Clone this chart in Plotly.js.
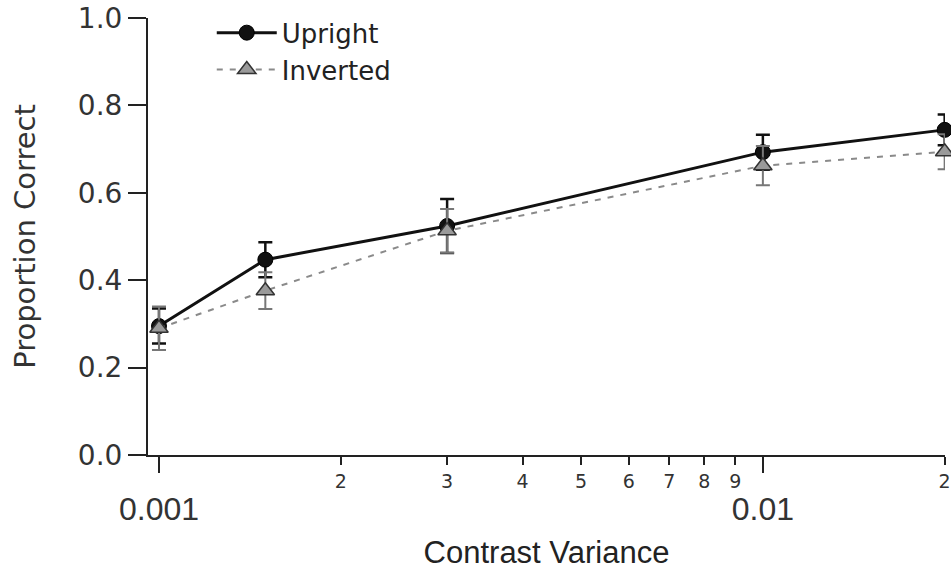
<!DOCTYPE html>
<html>
<head>
<meta charset="utf-8">
<script src="https://cdn.plot.ly/plotly-3.0.1.min.js"></script>
<style>html,body{margin:0;padding:0;background:#fff;}#chart{width:951px;height:570px;}</style>
</head>
<body>
<div id="chart"></div>
<script>
// Data
const contrastVariance = [0.001, 0.0015, 0.003, 0.01, 0.02];
const uprightMean = [0.295, 0.447, 0.524, 0.693, 0.744];
const uprightErr = [0.04, 0.04, 0.062, 0.04, 0.035];
const invertedMean = [0.29, 0.376, 0.513, 0.662, 0.694];
const invertedErr = [0.05, 0.042, 0.05, 0.045, 0.04];

// Axis ticks
const minorTickVals = [0.002, 0.003, 0.004, 0.005, 0.006, 0.007, 0.008, 0.009, 0.02];
const minorTickText = ['2', '3', '4', '5', '6', '7', '8', '9', '2'];
const decadeTickVals = [0.001, 0.01];
const decadeTickText = ['0.001', '0.01'];
const yTickVals = [0, 0.2, 0.4, 0.6, 0.8, 1.0];
const yTickText = ['0.0', '0.2', '0.4', '0.6', '0.8', '1.0'];

const xRange = [-3.0182, -1.6984];

const traces = [
  {
    name: 'Upright', x: contrastVariance, y: uprightMean, type: 'scatter', mode: 'lines+markers',
    line: {color: '#111', width: 3},
    marker: {symbol: 'circle', size: 15, color: '#111', line: {color: '#000', width: 1}},
    error_y: {type: 'data', array: uprightErr, visible: true, color: '#111', thickness: 2.5, width: 7},
    cliponaxis: false
  },
  {
    name: 'Inverted', x: contrastVariance, y: invertedMean, type: 'scatter', mode: 'lines+markers',
    line: {color: '#8a8a8a', width: 2, dash: '6px,7px'},
    marker: {symbol: 'triangle-up', size: 16, color: '#9a9a9a', line: {color: '#333', width: 1.5}},
    error_y: {type: 'data', array: invertedErr, visible: true, color: '#777', thickness: 2, width: 7},
    cliponaxis: false
  },
  {
    // empty carrier so that the decade-label axis is drawn
    x: decadeTickVals, y: [null, null], xaxis: 'x2', yaxis: 'y', type: 'scatter', mode: 'markers',
    showlegend: false, hoverinfo: 'skip'
  }
];

const layout = {
  width: 951, height: 570,
  paper_bgcolor: '#fff', plot_bgcolor: '#fff',
  margin: {l: 148, r: 6, t: 18, b: 115, pad: 0},
  showlegend: true,
  legend: {
    x: 0.08, y: 1.02, xanchor: 'left', yanchor: 'top',
    bgcolor: 'rgba(0,0,0,0)', font: {family: 'DejaVu Sans', size: 26, color: '#222'},
    itemwidth: 60, tracegroupgap: 0
  },
  xaxis: {
    type: 'log', range: xRange, showgrid: false, zeroline: false,
    showline: true, linecolor: '#222', linewidth: 2,
    ticks: 'outside', ticklen: 8, tickwidth: 2, tickcolor: '#222',
    tickmode: 'array', tickvals: minorTickVals, ticktext: minorTickText,
    tickfont: {family: 'DejaVu Sans', size: 19, color: '#333'},
    ticklabeloverflow: 'allow'
  },
  xaxis2: {
    type: 'log', range: xRange, overlaying: 'x', anchor: 'y', side: 'bottom',
    showgrid: false, zeroline: false, showline: false,
    ticks: 'outside', ticklen: 17, tickwidth: 2, tickcolor: '#222',
    tickmode: 'array', tickvals: decadeTickVals, ticktext: decadeTickText,
    tickfont: {family: 'Liberation Sans', size: 32, color: '#333'},
    ticklabelstandoff: 9,
    title: {text: 'Contrast Variance', font: {family: 'Liberation Sans', size: 31, color: '#222'}, standoff: 23}
  },
  yaxis: {
    range: [0, 1], showgrid: false, zeroline: false,
    showline: true, linecolor: '#222', linewidth: 2,
    ticks: 'outside', ticklen: 18, tickwidth: 2, tickcolor: '#222',
    tickmode: 'array', tickvals: yTickVals, ticktext: yTickText,
    tickfont: {family: 'DejaVu Sans', size: 28, color: '#333'},
    title: {text: 'Proportion Correct', font: {family: 'DejaVu Sans', size: 29, color: '#333'}, standoff: 34}
  }
};

Plotly.newPlot('chart', traces, layout, {displayModeBar: false, staticPlot: true});
</script>
</body>
</html>
